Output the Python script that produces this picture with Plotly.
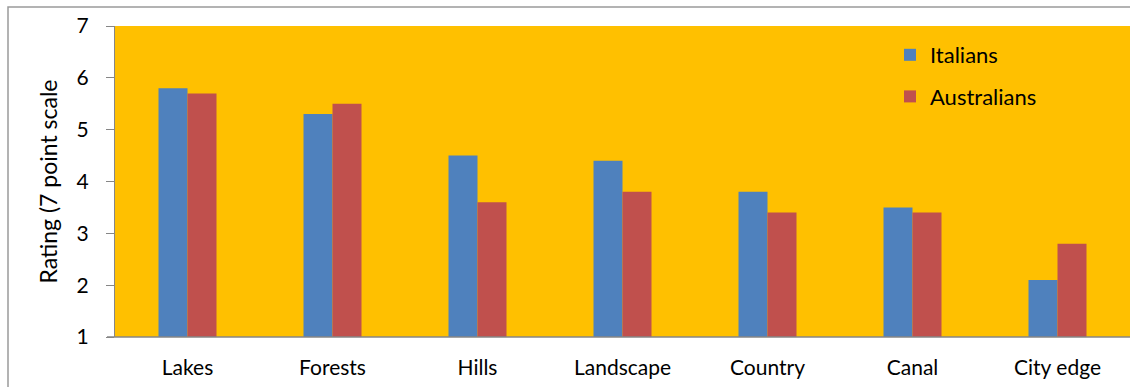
import plotly.graph_objects as go

categories = ["Lakes", "Forests", "Hills", "Landscape", "Country", "Canal", "City edge"]
italians = [5.8, 5.3, 4.5, 4.4, 3.8, 3.5, 2.1]
australians = [5.7, 5.5, 3.6, 3.8, 3.4, 3.4, 2.8]
y_ticks = [1, 2, 3, 4, 5, 6, 7]

W, H = 1130, 387
L, R, T, B = 115, 0, 26, 50
pw, ph = W - L - R, H - T - B

font_family = "Lato, Open Sans, sans-serif"

fig = go.Figure()
fig.add_trace(go.Bar(name="Italians", x=categories, y=italians,
                     marker=dict(color="#4F81BD", line=dict(width=0)),
                     legendgroup="a"))
fig.add_trace(go.Bar(name="Australians", x=categories, y=australians,
                     marker=dict(color="#C0504D", line=dict(width=0)),
                     legendgroup="b"))

# outer chart frame (runs off the right and bottom edges)
fig.add_shape(type="rect", xref="paper", yref="paper",
              x0=(8 - L) / pw, x1=1.05, y0=-(B + 10) / ph, y1=1 + (T - 7) / ph,
              line=dict(color="#9A9A9A", width=1.5), fillcolor="rgba(0,0,0,0)",
              layer="below")

fig.update_layout(
    width=W, height=H,
    margin=dict(l=L, r=R, t=T, b=B, pad=0),
    paper_bgcolor="white",
    plot_bgcolor="#FFC000",
    barmode="group",
    bargap=0.6,
    bargroupgap=0,
    font=dict(family=font_family, size=21, color="#000000"),
    showlegend=True,
    legend=dict(x=(890 - L) / pw, y=1 - (34 - T) / ph, xanchor="left", yanchor="top",
                bgcolor="rgba(0,0,0,0)", font=dict(size=22),
                tracegroupgap=10, traceorder="grouped"),
    xaxis=dict(showgrid=False, showline=False, ticks="", ticklabelstandoff=16,
               zeroline=False),
    yaxis=dict(range=[1, 7], tickvals=y_ticks, showgrid=False, zeroline=False,
               showline=True, linecolor="#868686", linewidth=1,
               ticks="outside", ticklen=8, tickcolor="#868686",
               ticklabelstandoff=13,
               title=dict(text="Rating (7 point scale", standoff=12,
                          font=dict(size=23))),
)

# bottom axis line extending under the y tick
fig.add_shape(type="line", xref="paper", yref="paper",
              x0=-8 / pw, x1=1, y0=0, y1=0,
              line=dict(color="#868686", width=1.5))

fig.write_html("out.html")
